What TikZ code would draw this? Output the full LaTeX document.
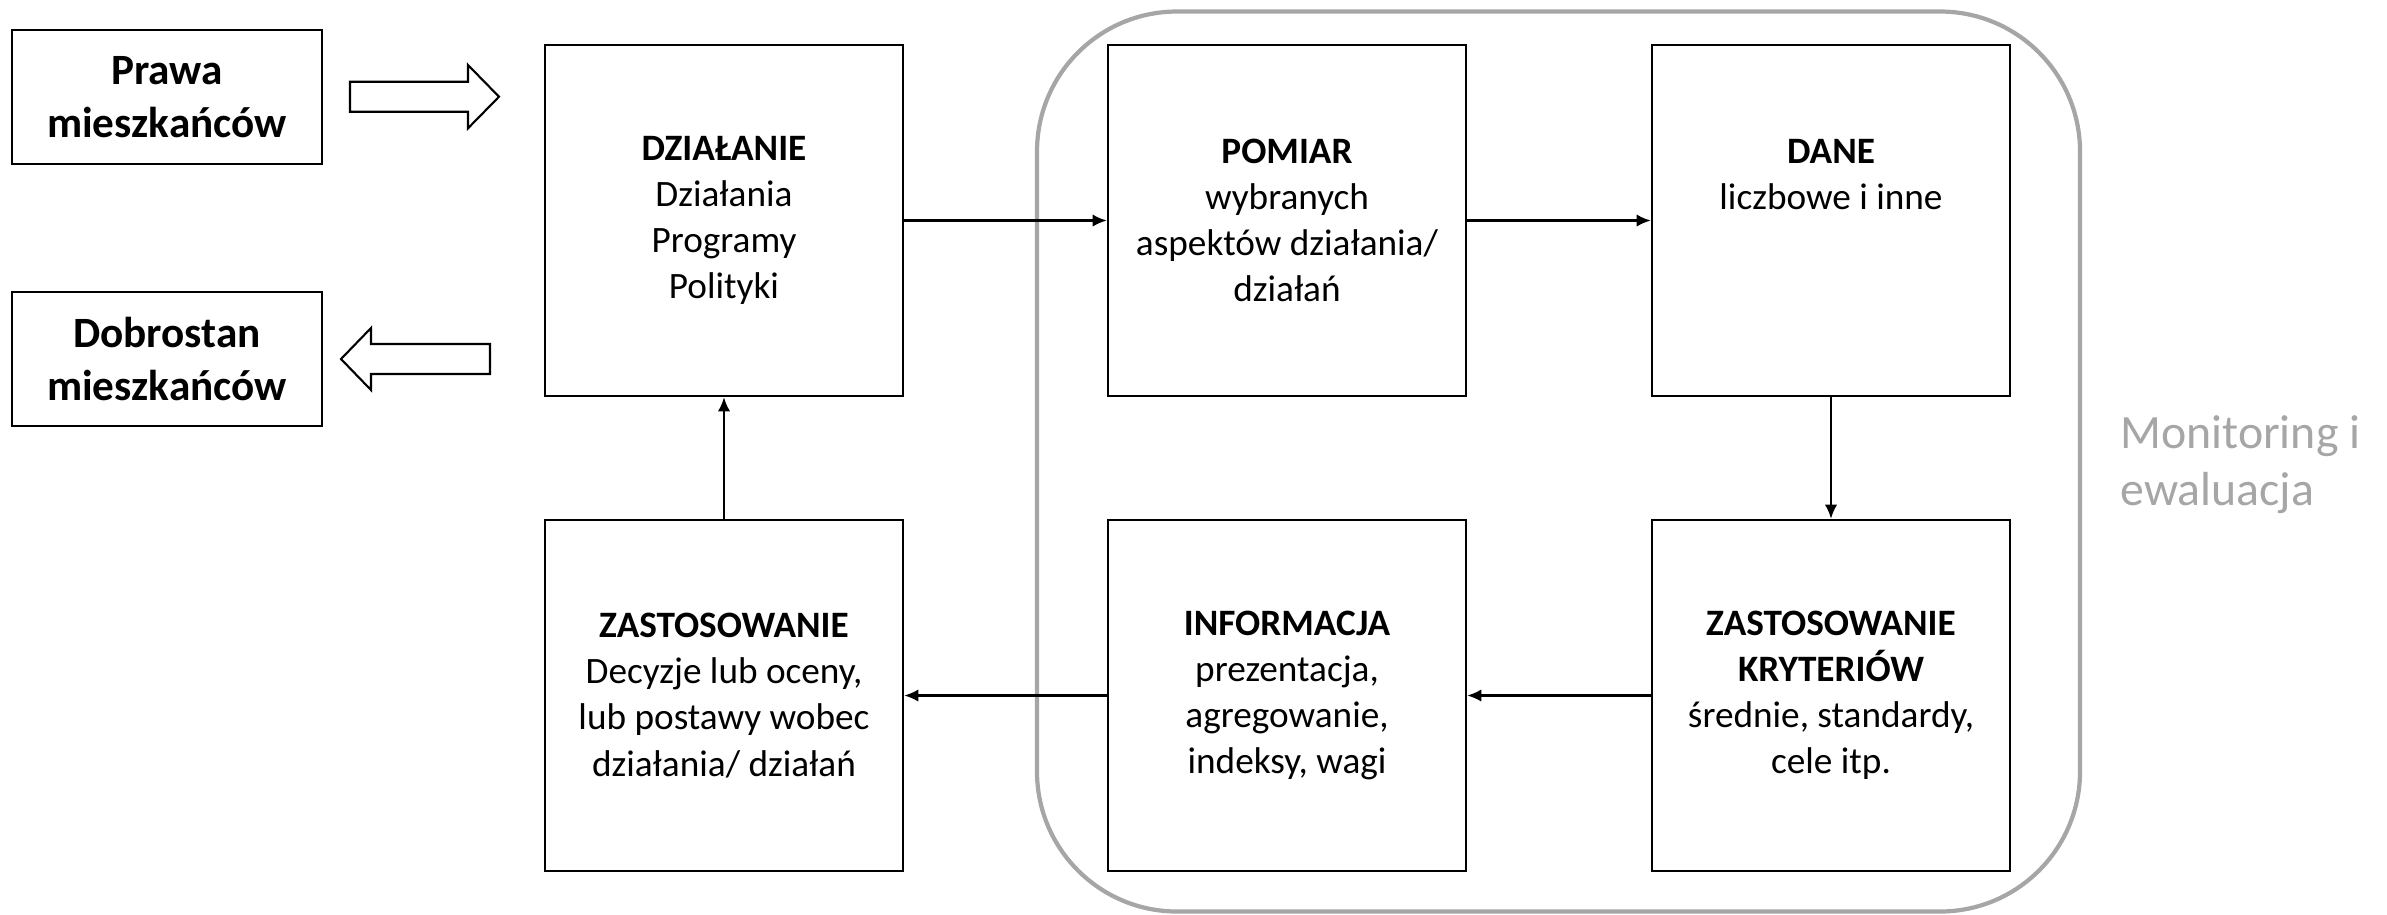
\documentclass[tikz,border=0pt]{standalone}
\usepackage{fontspec}
\setmainfont{Carlito}
\usetikzlibrary{arrows.meta}
\definecolor{szary}{RGB}{166,166,166}

\begin{document}
\begin{tikzpicture}[
	etap/.style={draw, line width=0.7pt, minimum width=3.58cm, minimum height=3.51cm,
		align=center, inner sep=0pt, font=\fontsize{10.6}{13.1}\selectfont},
	skrajny/.style={draw, line width=0.7pt, minimum width=3.10cm, minimum height=1.34cm,
		align=center, inner sep=0pt, font=\fontsize{12.3}{15}\selectfont\bfseries},
	strz/.style={-{Latex[length=4pt,width=3.5pt]}, line width=0.6pt},
	pusta/.style={draw, line width=0.6pt, line join=miter}]
	\useasboundingbox (0,0) rectangle (23.87,-9.14);
	%    \tikzstyle{every node}=[draw]
	\node[draw=szary, line width=1.2pt, rounded corners=1.4cm, minimum width=10.43cm,
		minimum height=9.0cm] (monit) at (15.585,-4.615) {};
	\node[anchor=west, align=left, text=szary, font=\fontsize{13.6}{16.2}\selectfont]
		(opis) at (21.08,-4.65) {Monitoring i\\ewaluacja};

	\node[skrajny] (prawa) at (1.67,-0.97) {Prawa\\mieszkańców};
	\node[skrajny] (dobro) at (1.67,-3.59) {Dobrostan\\mieszkańców};

	\node[etap] (dzial) at (7.24,-2.205) {\textbf{DZIAŁANIE}\\Działania\\Programy\\Polityki};
	\node[etap] (pomiar) at (12.87,-2.205) {\textbf{POMIAR}\\wybranych\\aspektów działania/\\działań};
	\node[etap] (dane) at (18.31,-2.205) {\textbf{DANE}\\liczbowe i inne\\~\\~};
	\node[etap] (zast) at (7.24,-6.955) {\textbf{ZASTOSOWANIE}\\Decyzje lub oceny,\\lub postawy wobec\\działania/ działań};
	\node[etap] (inform) at (12.87,-6.955) {\textbf{INFORMACJA}\\prezentacja,\\agregowanie,\\indeksy, wagi};
	\node[etap] (kryt) at (18.31,-6.955) {\textbf{ZASTOSOWANIE}\\\textbf{KRYTERIÓW}\\średnie, standardy,\\cele itp.};

	\draw[strz] (dzial) -- (pomiar);
	\draw[strz] (pomiar) -- (dane);
	\draw[strz] (dane) -- (kryt);
	\draw[strz] (kryt) -- (inform);
	\draw[strz] (inform) -- (zast);
	\draw[strz] (zast) -- (dzial);

	% puste strzalki
	\draw[pusta] (3.50,-0.817) -- (4.68,-0.817) -- (4.68,-0.65) -- (4.99,-0.967)
		-- (4.68,-1.283) -- (4.68,-1.117) -- (3.50,-1.117) -- cycle;
	\draw[pusta] (4.90,-3.44) -- (3.71,-3.44) -- (3.71,-3.28) -- (3.41,-3.59)
		-- (3.71,-3.90) -- (3.71,-3.74) -- (4.90,-3.74) -- cycle;
\end{tikzpicture}
\end{document}
